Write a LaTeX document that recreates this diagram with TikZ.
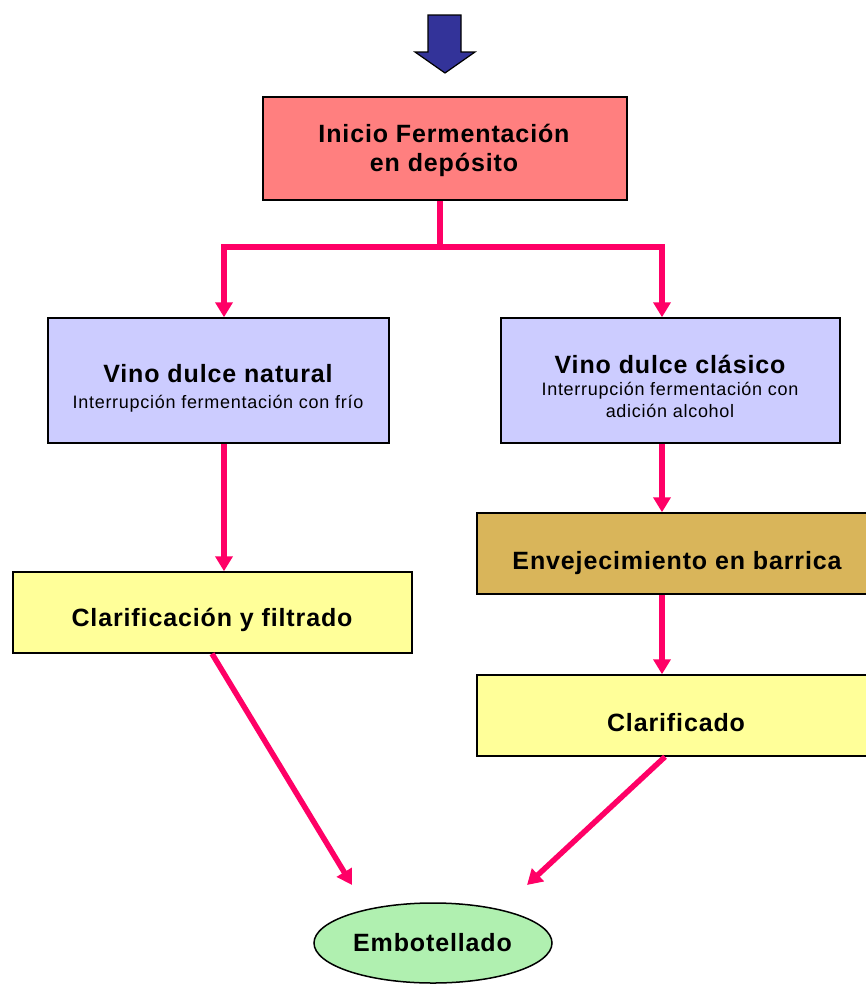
\documentclass[tikz,border=0pt]{standalone}
\usepackage{fontspec}
\setmainfont{Liberation Sans}
\newfontfamily\tfont[LetterSpace=3.5]{Liberation Sans}
\newfontfamily\sfont[LetterSpace=4]{Liberation Sans}
\usetikzlibrary{arrows.meta,shapes.geometric}
\definecolor{initc}{HTML}{FF7F7F}
\definecolor{vinoc}{HTML}{CCCCFF}
\definecolor{clarc}{HTML}{FFFF99}
\definecolor{envc}{HTML}{D9B55A}
\definecolor{embc}{HTML}{B0F0B0}
\definecolor{linkc}{HTML}{FF0066}
\definecolor{arrc}{HTML}{333399}
\tikzset{
  box/.style={draw=black, line width=1.5pt, rectangle, inner sep=0pt},
  title/.style={font=\tfont\bfseries\fontsize{25}{29}\selectfont, anchor=base, inner sep=0pt},
  subtitle/.style={font=\sfont\fontsize{18}{22}\selectfont, anchor=base, inner sep=0pt},
  link/.style={draw=linkc, line width=5.5pt, -{Triangle[length=15pt,width=17pt]}},
  plain/.style={draw=linkc, line width=5.5pt}
}
\begin{document}
\begin{tikzpicture}[x=1pt,y=-1pt]
\useasboundingbox (0,0) rectangle (866,985);
\clip (0,0) rectangle (866,985);
% top arrow
\filldraw[fill=arrc, draw=black, line width=1.2pt]
  (428,15) -- (461,15) -- (461,52) -- (475,52) -- (445,73) -- (415,52) -- (428,52) -- cycle;
% boxes
\node[box, fill=initc, minimum width=364pt, minimum height=103pt] (init) at (445,148.5) {};
\node[box, fill=vinoc, minimum width=341pt, minimum height=125pt] (nat) at (218.5,380.5) {};
\node[box, fill=vinoc, minimum width=339pt, minimum height=125pt] (cla) at (670.5,380.5) {};
\node[box, fill=clarc, minimum width=399pt, minimum height=81pt] (clf) at (212.5,612.5) {};
\node[box, fill=envc, minimum width=393pt, minimum height=81pt] (env) at (673.5,553.5) {};
\node[box, fill=clarc, minimum width=393pt, minimum height=81pt] (cdo) at (673.5,715.5) {};
\node[draw=black, line width=1.5pt, ellipse, fill=embc, minimum width=238pt, minimum height=80pt, inner sep=0pt] (emb) at (433,943) {};
% texts
\node[title] (init-a) at (444,142) {Inicio Fermentación};
\node[title] (init-b) at (444,171) {en depósito};
\node[title] (nat-a) at (218,382) {Vino dulce natural};
\node[subtitle] (nat-b) at (218,408) {Interrupción fermentación con frío};
\node[title] (cla-a) at (670,373) {Vino dulce clásico};
\node[subtitle] (cla-b) at (670,395) {Interrupción fermentación con};
\node[subtitle] (cla-c) at (670,417) {adición alcohol};
\node[title] (clf-a) at (212,626) {Clarificación y filtrado};
\node[title] (env-a) at (677,569) {Envejecimiento en barrica};
\node[title] (cdo-a) at (676,731) {Clarificado};
\node[title] (emb-a) at (432.5,951) {Embotellado};
% connectors
\coordinate (j) at (440,247);
\coordinate (jl) at (224,247);
\coordinate (jr) at (662,247);
\draw[plain] (init.south -| j) -- (j);
\draw[link] (j) -- (jl) -- (jl |- nat.north);
\draw[link] (j) -- (jr) -- (jr |- cla.north);
\draw[link] (nat.south -| jl) -- (jl |- clf.north);
\draw[link] (cla.south -| jr) -- (jr |- env.north);
\draw[link] (env.south -| jr) -- (jr |- cdo.north);
\draw[link] ([xshift=-0.5pt]clf.south) -- (352,885);
\draw[link] (cdo.south -| 665,0) -- (527,885);
\end{tikzpicture}
\end{document}
